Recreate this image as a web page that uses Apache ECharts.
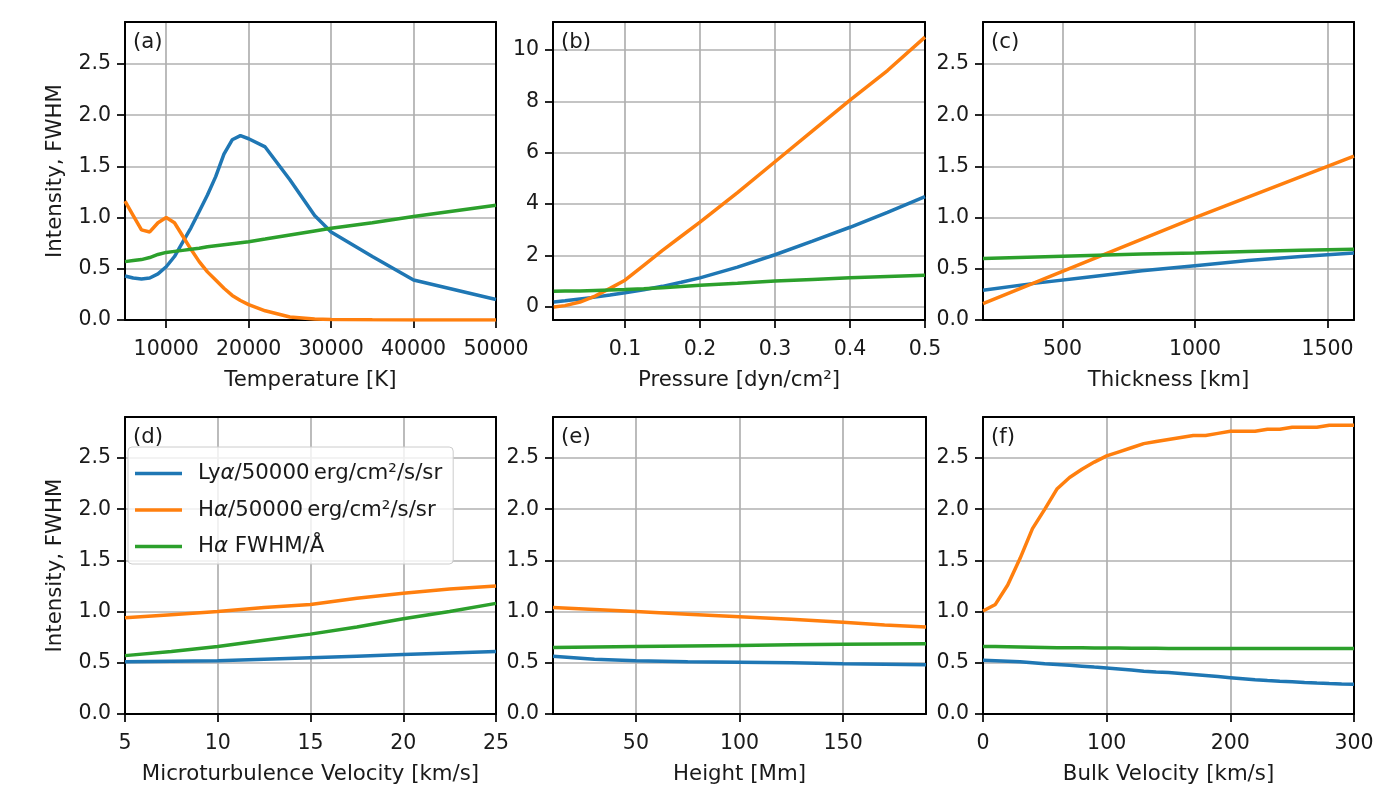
<!DOCTYPE html>
<html>
<head>
<meta charset="utf-8">
<script src="https://cdn.jsdelivr.net/npm/echarts@6/dist/echarts.min.js"></script>
<style>
html,body{margin:0;padding:0;background:#fff;}
#chart{width:1378px;height:789px;}
</style>
</head>
<body>
<div id="chart"></div>
<script>
// ---------------- DATA ----------------
const seriesNames = ['Lyα/50000 erg/cm²/s/sr', 'Hα/50000 erg/cm²/s/sr', 'Hα FWHM/Å'];

// (a) Temperature
const tempX = [5000,6000,7000,8000,9000,10000,11000,12000,13000,14000,15000,16000,17000,18000,19000,20000,22000,25000,28000,30000,35000,40000,50000];
const tempLya = [0.43,0.41,0.40,0.41,0.45,0.52,0.62,0.76,0.90,1.06,1.22,1.40,1.62,1.76,1.80,1.77,1.69,1.37,1.02,0.86,0.62,0.39,0.20];
const tempHa = [1.16,1.02,0.88,0.86,0.95,1.00,0.95,0.82,0.69,0.57,0.47,0.39,0.31,0.24,0.19,0.15,0.09,0.03,0.01,0.005,0.002,0.001,0.0];
const tempFwhm = [0.57,0.58,0.59,0.61,0.64,0.66,0.67,0.68,0.69,0.70,0.715,0.725,0.735,0.745,0.755,0.765,0.79,0.83,0.87,0.895,0.95,1.01,1.12];

// (b) Pressure
const presX = [0.005,0.02,0.04,0.06,0.08,0.1,0.125,0.15,0.175,0.2,0.25,0.3,0.35,0.4,0.45,0.5];
const presLya = [0.19,0.24,0.31,0.38,0.46,0.55,0.67,0.80,0.96,1.13,1.55,2.03,2.56,3.10,3.68,4.29];
const presHa = [0.00,0.05,0.19,0.42,0.72,1.04,1.62,2.20,2.75,3.30,4.45,5.65,6.85,8.05,9.20,10.50];
const presFwhm = [0.61,0.615,0.62,0.64,0.66,0.68,0.71,0.75,0.79,0.84,0.92,1.01,1.07,1.13,1.18,1.23];

// (c) Thickness
const thickX = [200,400,600,800,1000,1200,1400,1600];
const thickLya = [0.29,0.36,0.42,0.48,0.53,0.58,0.62,0.655];
const thickHa = [0.16,0.37,0.58,0.79,1.00,1.20,1.40,1.60];
const thickFwhm = [0.60,0.615,0.63,0.645,0.655,0.67,0.68,0.69];

// (d) Microturbulence velocity
const microX = [5,7.5,10,12.5,15,17.5,20,22.5,25];
const microLya = [0.51,0.515,0.52,0.535,0.55,0.565,0.58,0.595,0.61];
const microHa = [0.94,0.97,1.00,1.04,1.07,1.13,1.18,1.22,1.25];
const microFwhm = [0.57,0.61,0.66,0.72,0.78,0.85,0.93,1.00,1.08];

// (e) Height
const heightX = [10,30,50,75,100,125,150,170,190];
const heightLya = [0.565,0.535,0.52,0.51,0.505,0.50,0.49,0.485,0.48];
const heightHa = [1.04,1.02,1.00,0.975,0.95,0.925,0.895,0.87,0.85];
const heightFwhm = [0.65,0.655,0.66,0.665,0.67,0.675,0.68,0.683,0.685];

// (f) Bulk velocity
const bulkX = [0,10,20,30,40,50,60,70,80,90,100,110,120,130,140,150,160,170,180,190,200,210,220,230,240,250,260,270,280,290,300];
const bulkHa = [1.005,1.07,1.26,1.52,1.81,2.00,2.20,2.31,2.39,2.46,2.52,2.56,2.60,2.64,2.66,2.68,2.70,2.72,2.72,2.74,2.76,2.76,2.76,2.78,2.78,2.80,2.80,2.80,2.82,2.82,2.82];
const bulkLya = [0.525,0.52,0.515,0.51,0.50,0.49,0.483,0.475,0.467,0.458,0.45,0.44,0.43,0.418,0.41,0.405,0.395,0.385,0.375,0.365,0.355,0.345,0.335,0.327,0.32,0.315,0.308,0.302,0.297,0.293,0.29];
const bulkFwhm = [0.66,0.658,0.656,0.654,0.652,0.65,0.648,0.647,0.646,0.645,0.645,0.644,0.643,0.642,0.641,0.64,0.64,0.64,0.64,0.64,0.64,0.64,0.64,0.64,0.64,0.64,0.64,0.64,0.64,0.64,0.64];

// tick labels
const tempTicks = [10000,20000,30000,40000,50000];
const presTicks = [0.1,0.2,0.3,0.4,0.5];
const thickTicks = [500,1000,1500];
const microTicks = [5,10,15,20,25];
const heightTicks = [50,100,150];
const bulkTicks = [0,100,200,300];
const yTicksStd = [0,0.5,1.0,1.5,2.0,2.5];
const yTicksPres = [0,2,4,6,8,10];

const xTitles = ['Temperature [K]','Pressure [dyn/cm²]','Thickness [km]','Microturbulence Velocity [km/s]','Height [Mm]','Bulk Velocity [km/s]'];
const panelLabels = ['(a)','(b)','(c)','(d)','(e)','(f)'];

// ---------------- LAYOUT ----------------
const FONT = 'DejaVu Sans';
const FS = 20.5;   // tick labels
const FN = 21.3;   // axis names, legend, panel labels
const TXT = '#1a1a1a';
const COLORS = ['#1f77b4','#ff7f0e','#2ca02c'];

const panels = [
  {x:tempX, ys:[tempLya,tempHa,tempFwhm], xmin:5000, xmax:50000, xt:tempTicks, xf:v=>String(v), ymin:0, ymax:2.91, yt:yTicksStd, yf:v=>v.toFixed(1), g:{left:125,top:22,width:371,height:298}, ylab:true},
  {x:presX, ys:[presLya,presHa,presFwhm], xmin:0.004, xmax:0.5, xt:presTicks, xf:v=>v.toFixed(1), ymin:-0.51, ymax:11.09, yt:yTicksPres, yf:v=>String(v), g:{left:553,top:22,width:372,height:298}},
  {x:thickX, ys:[thickLya,thickHa,thickFwhm], xmin:200, xmax:1600, xt:thickTicks, xf:v=>String(v), ymin:0, ymax:2.91, yt:yTicksStd, yf:v=>v.toFixed(1), g:{left:983,top:22,width:371,height:298}},
  {x:microX, ys:[microLya,microHa,microFwhm], xmin:5, xmax:25, xt:microTicks, xf:v=>String(v), ymin:0, ymax:2.9, yt:yTicksStd, yf:v=>v.toFixed(1), g:{left:125,top:417,width:371,height:297}, ylab:true},
  {x:heightX, ys:[heightLya,heightHa,heightFwhm], xmin:10, xmax:190, xt:heightTicks, xf:v=>String(v), ymin:0, ymax:2.9, yt:yTicksStd, yf:v=>v.toFixed(1), g:{left:553,top:417,width:373,height:297}},
  {x:bulkX, ys:[bulkLya,bulkHa,bulkFwhm], xmin:0, xmax:300, xt:bulkTicks, xf:v=>String(v), ymin:0, ymax:2.9, yt:yTicksStd, yf:v=>v.toFixed(1), g:{left:983,top:417,width:371,height:297}}
];

const grids=[], xAxes=[], yAxes=[], series=[], titles=[];
const spineX=[], spineY=[];
const gridLine = {show:true, lineStyle:{color:'#b0b0b0', width:1.7}};
const tickStyle = (vals)=>({show:true, inside:false, length:8, lineStyle:{color:'#000', width:1.7}, customValues:vals});
const spineLine = {show:true, onZero:false, lineStyle:{color:'#000', width:2}};

panels.forEach((p,i)=>{
  grids.push(Object.assign({containLabel:false}, p.g));
  xAxes.push({
    type:'value', gridIndex:i, min:p.xmin, max:p.xmax,
    axisLine:spineLine, axisTick:tickStyle(p.xt), splitLine:gridLine,
    axisLabel:{customValues:p.xt, formatter:p.xf, fontFamily:FONT, fontSize:FS, color:TXT, margin:19, showMinLabel:true, showMaxLabel:true},
    name:xTitles[i], nameLocation:'middle', nameGap:50,
    nameTextStyle:{fontFamily:FONT, fontSize:FN, color:TXT}
  });
  yAxes.push({
    type:'value', gridIndex:i, min:p.ymin, max:p.ymax,
    axisLine:spineLine, axisTick:tickStyle(p.yt), splitLine:gridLine,
    axisLabel:{customValues:p.yt, formatter:p.yf, fontFamily:FONT, fontSize:FS, color:TXT, margin:14},
    name:p.ylab ? 'Intensity, FWHM' : '', nameLocation:'middle', nameRotate:90, nameGap:59,
    nameTextStyle:{fontFamily:FONT, fontSize:FN, color:TXT}
  });
  spineX.push({type:'value', gridIndex:i, position:'top', min:p.xmin, max:p.xmax, axisLine:spineLine, axisTick:{show:false}, axisLabel:{show:false}, splitLine:{show:false}});
  spineY.push({type:'value', gridIndex:i, position:'right', min:p.ymin, max:p.ymax, axisLine:spineLine, axisTick:{show:false}, axisLabel:{show:false}, splitLine:{show:false}});
  p.ys.forEach((ys,k)=>{
    series.push({
      type:'line', name:seriesNames[k], xAxisIndex:i, yAxisIndex:i,
      data:p.x.map((xv,j)=>[xv, ys[j]]),
      showSymbol:false, symbol:'none', smooth:false,
      lineStyle:{color:COLORS[k], width:3.5}, itemStyle:{color:COLORS[k]},
      z:3, animation:false
    });
  });
  titles.push({text:panelLabels[i], left:p.g.left+3, top:p.g.top+5, textStyle:{fontFamily:FONT, fontSize:FN, fontWeight:'normal', color:TXT}});
});

const option = {
  animation:false,
  backgroundColor:'#ffffff',
  title:titles,
  grid:grids,
  xAxis:xAxes.concat(spineX),
  yAxis:yAxes.concat(spineY),
  series:series,
  legend:{
    data:seriesNames,
    orient:'vertical', left:128, top:447,
    padding:[16,11,7,7], itemGap:15.5,
    icon:'rect', itemWidth:47, itemHeight:3.5,
    backgroundColor:'rgba(255,255,255,0.8)', borderColor:'#cccccc', borderWidth:1, borderRadius:4,
    selectedMode:false,
    formatter:function(name){
      if(name.indexOf('Ly')===0) return '{n|Ly}{i|α}{n|/50000\u2009erg/cm²/s/sr}';
      if(name.indexOf('FWHM')>0) return '{n|H}{i|α}{n| FWHM/Å}';
      return '{n|H}{i|α}{n|/50000\u2009erg/cm²/s/sr}';
    },
    textStyle:{fontFamily:FONT, fontSize:FN, color:TXT, padding:[0,0,0,11],
      rich:{n:{fontFamily:FONT, fontSize:FN, color:TXT}, i:{fontFamily:FONT, fontSize:FN, color:TXT, fontStyle:'italic'}}}
  }
};

const chart = echarts.init(document.getElementById('chart'), null, {renderer:'canvas'});
chart.setOption(option);
</script>
</body>
</html>
